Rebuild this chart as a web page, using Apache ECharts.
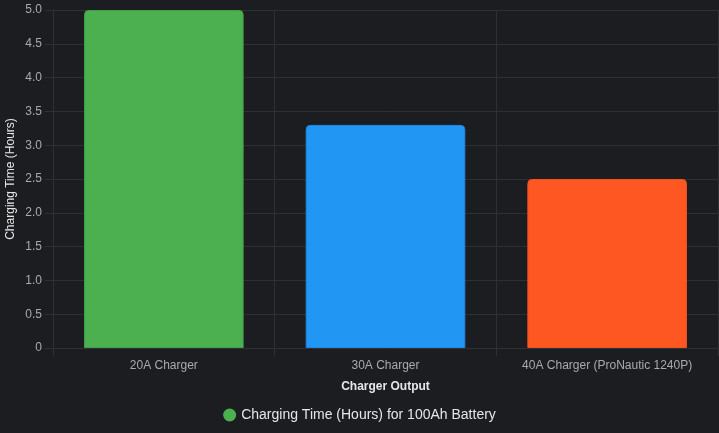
<!DOCTYPE html>
<html>
<head>
<meta charset="utf-8">
<script src="https://cdn.jsdelivr.net/npm/echarts@6/dist/echarts.min.js"></script>
<style>
html,body{margin:0;padding:0;background:#1c1d21;}
#c{width:719px;height:433px;}
</style>
</head>
<body>
<div id="c"></div>
<script>
const categories = ['20A Charger', '30A Charger', '40A Charger (ProNautic 1240P)'];
const values = [5.0, 3.3, 2.5];
const barColors = ['#4CAF50', '#2196F3', '#FF5722'];
const borderColors = ['#43a047', '#1e88e5', '#f4511e'];
const seriesName = 'Charging Time (Hours) for 100Ah Battery';

const chart = echarts.init(document.getElementById('c'), null, {renderer: 'canvas'});
const font = '"Liberation Sans", Arial, sans-serif';
const gridColor = '#2e3034';
chart.setOption({
  backgroundColor: '#1c1d21',
  animation: false,
  textStyle: {fontFamily: font},
  grid: {left: 53, right: 1, top: 10, bottom: 85, containLabel: false, outerBoundsMode: 'none'},
  legend: {
    data: [seriesName],
    bottom: 6,
    left: 'center',
    icon: 'circle',
    itemWidth: 13,
    itemHeight: 13,
    itemGap: 10,
    textStyle: {color: '#e6e6e6', fontSize: 14, fontFamily: font}
  },
  xAxis: {
    type: 'category',
    data: categories,
    boundaryGap: true,
    name: 'Charger Output',
    nameLocation: 'middle',
    nameGap: 33,
    nameMoveOverlap: false,
    nameTextStyle: {color: '#e6e6e6', fontSize: 12, fontWeight: 'bold', fontFamily: font},
    axisLine: {show: true, lineStyle: {color: gridColor}},
    axisTick: {show: true, length: 8, interval: 0, lineStyle: {color: gridColor}},
    axisLabel: {color: '#aaaaaa', fontSize: 12, margin: 12, interval: 0, fontFamily: font},
    splitLine: {show: true, interval: 0, lineStyle: {color: gridColor}}
  },
  yAxis: {
    type: 'value',
    min: 0,
    max: 5,
    interval: 0.5,
    name: 'Charging Time (Hours)',
    nameLocation: 'middle',
    nameGap: 36,
    nameMoveOverlap: false,
    nameTextStyle: {color: '#e6e6e6', fontSize: 12, fontFamily: font},
    axisLine: {show: true, lineStyle: {color: gridColor}},
    axisTick: {show: true, length: 8, lineStyle: {color: gridColor}},
    axisLabel: {
      color: '#aaaaaa', fontSize: 12, margin: 11, fontFamily: font,
      formatter: v => v === 0 ? '0' : v.toFixed(1)
    },
    splitLine: {show: true, lineStyle: {color: gridColor}}
  },
  series: [{
    name: seriesName,
    type: 'bar',
    barWidth: '72%',
    itemStyle: {color: barColors[0]},
    data: values.map((v, i) => ({
      value: v,
      itemStyle: {color: barColors[i], borderColor: borderColors[i], borderWidth: 1, borderRadius: [4, 4, 0, 0]}
    }))
  }]
});
</script>
</body>
</html>
